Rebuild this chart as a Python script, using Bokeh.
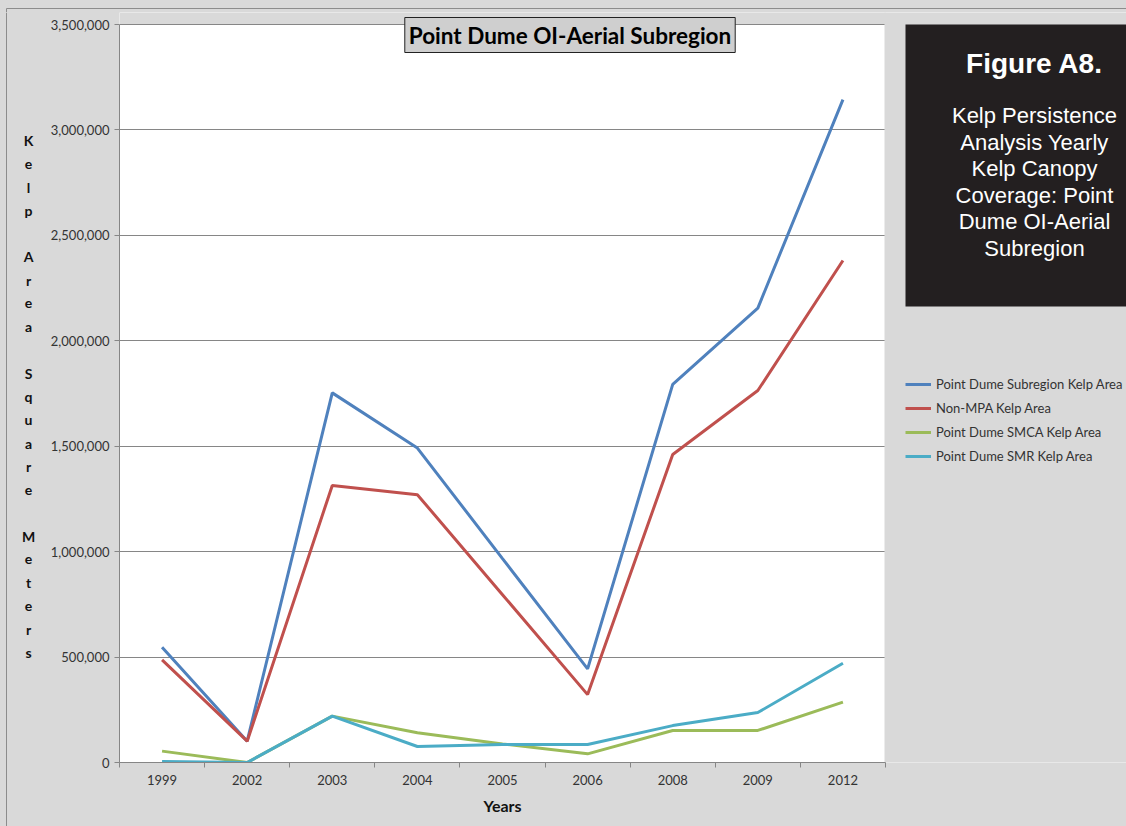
from bokeh.plotting import figure
from bokeh.layouts import column, row
from bokeh.models import (Range1d, FixedTicker, NumeralTickFormatter, Label,
                          BoxAnnotation, Legend, LegendItem)
from bokeh.core.properties import value
from bokeh.embed import file_html
from bokeh.resources import INLINE
import numpy as np

# Yearly kelp canopy coverage (square meters)
years = ["1999", "2002", "2003", "2004", "2005", "2006", "2008", "2009", "2012"]
subregion = [547000, 101000, 1753000, 1491000, 967000, 444000, 1793000, 2155000, 3144000]
non_mpa = [487000, 101000, 1314000, 1270000, 796000, 322000, 1461000, 1764000, 2381000]
smca = [54000, 0, 220000, 141000, 88000, 41000, 152000, 152000, 286000]
smr = [5000, 0, 220000, 76000, 85000, 85000, 175000, 237000, 471000]

series_names = ["Point Dume Subregion Kelp Area", "Non-MPA Kelp Area",
                "Point Dume SMCA Kelp Area", "Point Dume SMR Kelp Area"]
series_colors = ["#4F81BD", "#C0504D", "#9BBB59", "#4BACC6"]

y_ticks = [0, 500000, 1000000, 1500000, 2000000, 2500000, 3000000, 3500000]
y_max = 3500000
x_title = "Years"
y_title = "Kelp Area Square Meters"
chart_title = "Point Dume OI-Aerial Subregion"
caption_head = "Figure A8."
caption_lines = ["Kelp Persistence", "Analysis Yearly", "Kelp Canopy",
                 "Coverage: Point", "Dume OI-Aerial", "Subregion"]

# page geometry (pixels)
W, H = 1126, 826
STRIP_H = 12                 # strip above, carries the outer border
LEFT_W = 46                  # strip on the left, carries the stacked axis title
MAIN_W = W - LEFT_W
BOTTOM_H = 32                # strip below, carries the x-axis title
MAIN_H = H - STRIP_H - BOTTOM_H
BORDER_L = 73                # y-axis space inside the main figure
BORDER_B = 32                # x-axis tick label space
PLOT_TOP = 24                # page y of the top gridline
PLOT_RIGHT = 885             # page x of the right end of the plot area
BG = "#d9d9d9"
FRAME_LINE = "#8c8c8c"
GRID = "#868686"
TICK_TXT = "#333333"
BG_STYLE = {"background-color": BG}

n = len(years)
xs = np.arange(n) + 0.5

frame_left = LEFT_W + BORDER_L                  # page x of the frame's left edge
frame_bottom = STRIP_H + MAIN_H - BORDER_B      # page y of the frame's bottom edge
frame_w = MAIN_W - BORDER_L
frame_h = MAIN_H - BORDER_B
px_per_x = (PLOT_RIGHT - frame_left) / n
px_per_y = (frame_bottom - PLOT_TOP) / y_max
x_end = frame_w / px_per_x
y_end = frame_h / px_per_y


def fx(px):
    """page x -> frame-relative screen x"""
    return px - frame_left


def fy(py):
    """page y -> frame-relative screen y (measured up from the frame bottom)"""
    return frame_bottom - py


def blank_fig(w, h):
    f = figure(width=w, height=h, output_backend="svg", toolbar_location=None,
               x_range=Range1d(0, w), y_range=Range1d(h, 0),
               x_axis_type=None, y_axis_type=None, min_border=0,
               background_fill_color=BG, border_fill_color=BG,
               outline_line_color=None, frame_align=False, styles=BG_STYLE)
    f.grid.visible = False
    return f


# ---- main chart ----
p = figure(width=MAIN_W, height=MAIN_H, output_backend="svg", toolbar_location=None,
           x_range=Range1d(0, x_end), y_range=Range1d(0, y_end),
           min_border=0, min_border_left=BORDER_L, min_border_bottom=BORDER_B,
           background_fill_color="white", border_fill_color=BG,
           outline_line_color=None, frame_align=False, styles=BG_STYLE)

# x axis: labels at category centres, short ticks at the category boundaries
p.xaxis.ticker = FixedTicker(ticks=list(xs), minor_ticks=list(range(n + 1)))
p.xaxis.major_label_overrides = {float(x): y for x, y in zip(xs, years)}
p.xaxis.bounds = (0, n)
p.xaxis.major_tick_out = 0
p.xaxis.major_tick_in = 0
p.xaxis.minor_tick_out = 5
p.xaxis.minor_tick_in = 0
p.xaxis.minor_tick_line_color = GRID
p.xaxis.axis_line_color = GRID
p.xaxis.major_label_text_font = "Lato"
p.xaxis.major_label_text_font_size = "13px"
p.xaxis.major_label_text_color = TICK_TXT
p.xaxis.major_label_standoff = 7
p.xgrid.grid_line_color = None

# y axis
p.yaxis.ticker = FixedTicker(ticks=y_ticks, minor_ticks=[])
p.yaxis.formatter = NumeralTickFormatter(format="0,0")
p.yaxis.bounds = (0, y_max)
p.yaxis.major_tick_out = 5
p.yaxis.major_tick_in = 0
p.yaxis.major_tick_line_color = GRID
p.yaxis.minor_tick_line_color = None
p.yaxis.axis_line_color = GRID
p.yaxis.major_label_text_font = "Lato"
p.yaxis.major_label_text_font_size = "13px"
p.yaxis.major_label_text_color = TICK_TXT
p.yaxis.major_label_standoff = 5
p.ygrid.grid_line_color = GRID
p.ygrid.grid_line_width = 1

# grey surround: band above the top gridline and panel right of the plot area
edge = 1.0 / px_per_x
p.quad(left=[0, n - edge], right=[n, x_end + 1], bottom=[y_max + 0.6 / px_per_y, -1],
       top=[y_end + 1, y_end + 1], fill_color=BG, line_color=None)

# series lines
renderers = [p.line(xs, vals, line_color=col, line_width=3)
             for vals, col in zip([subregion, non_mpa, smca, smr], series_colors)]

# boxed chart title
p.add_layout(Label(x=fx(569.5), y=fy(34.5), x_units="screen", y_units="screen",
                   text=chart_title, text_align="center", text_baseline="middle",
                   text_font="Lato", text_font_style="bold", text_font_size="22.5px",
                   text_color="black", background_fill_color="#cfcfcf",
                   border_line_color="#222222", border_line_width=1, padding=4))

# caption panel
p.add_layout(BoxAnnotation(left=fx(905), right=fx(W + 5), top=fy(24), bottom=fy(306),
                           left_units="screen", right_units="screen",
                           top_units="screen", bottom_units="screen",
                           fill_color="#231f20", fill_alpha=1, line_color=None))
p.add_layout(Label(x=fx(1034), y=fy(63), x_units="screen", y_units="screen",
                   text=caption_head, text_align="center", text_baseline="middle",
                   text_font="Liberation Sans", text_font_style="bold",
                   text_font_size="28px", text_color="white"))
for i, t in enumerate(caption_lines):
    p.add_layout(Label(x=fx(1034), y=fy(115 + i * 26.6), x_units="screen", y_units="screen",
                       text=t, text_align="center", text_baseline="middle",
                       text_font="Liberation Sans", text_font_size="22px",
                       text_color="white"))

# legend
legend = Legend(items=[LegendItem(label=nm, renderers=[r])
                       for nm, r in zip(series_names, renderers)],
                location=(fx(905), fy(468)), padding=0, margin=0, spacing=0,
                glyph_width=26, glyph_height=24, label_height=24, label_standoff=5,
                label_text_font="Lato", label_text_font_size="13px",
                label_text_color="#333333", background_fill_alpha=0,
                border_line_color=None)
p.add_layout(legend)

# ---- strip above: outer border ----
top = blank_fig(W, STRIP_H)
top.line([6, 6, W], [STRIP_H, 8, 8], line_color=FRAME_LINE, line_width=1)

# ---- strip on the left: outer border + stacked axis title ----
left = blank_fig(LEFT_W, H - STRIP_H)
left.line([6, 6], [0, H - STRIP_H], line_color=FRAME_LINE, line_width=1)
letters = []
for word in y_title.split(" "):
    letters.extend(list(word))
    letters.append("")
letters = letters[:-1]
pitch = 23.27
lx, ly, lt = [], [], []
for i, ch in enumerate(letters):
    if ch:
        lx.append(28)
        ly.append(140 - STRIP_H + i * pitch)
        lt.append(ch)
left.text(lx, ly, text=lt, text_align="center", text_baseline="middle",
          text_font=value("Lato"), text_font_style="bold", text_font_size="14px",
          text_color="#111111")

# ---- strip below: x-axis title ----
bottom = blank_fig(MAIN_W, BOTTOM_H)
bottom.text([(frame_left + PLOT_RIGHT) / 2 - LEFT_W], [805 - (H - BOTTOM_H)], text=[x_title],
            text_align="center", text_baseline="middle",
            text_font=value("Lato"), text_font_style="bold", text_font_size="16px",
            text_color="#111111")

layout = column(top,
                row(left, column(p, bottom, spacing=0, styles=BG_STYLE),
                    spacing=0, styles=BG_STYLE),
                spacing=0, styles=BG_STYLE)
open("out.html", "w").write(file_html(layout, INLINE))
